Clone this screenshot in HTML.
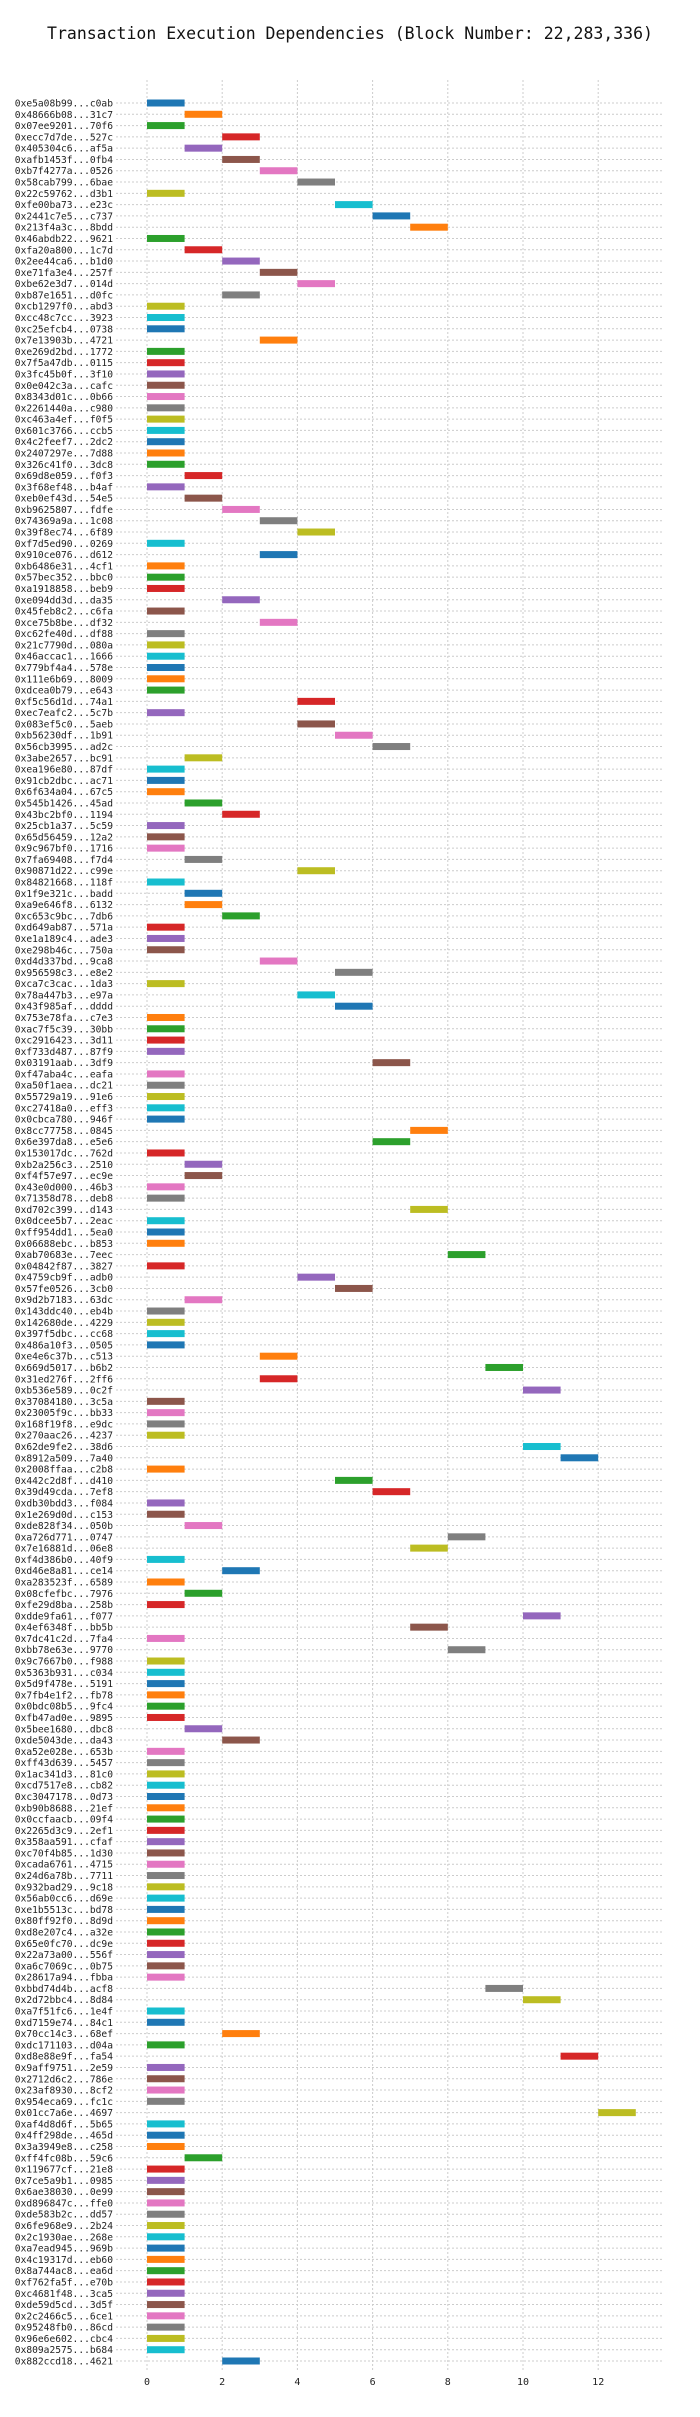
<!DOCTYPE html>
<html>
<head>
<meta charset="utf-8">
<style>
  html,body{margin:0;padding:0;background:#fff;}
  body{width:700px;height:2412px;overflow:hidden;}
  svg text{font-family:"DejaVu Sans Mono","Liberation Mono",monospace;}
</style>
</head>
<body>
<svg id="chart" width="700" height="2412" viewBox="0 0 700 2412" xmlns="http://www.w3.org/2000/svg">
  <rect x="0" y="0" width="700" height="2412" fill="#ffffff"/>
  <text x="350" y="39" text-anchor="middle" font-size="16.5" fill="#111">Transaction Execution Dependencies (Block Number: 22,283,336)</text>
  <g id="grid"></g>
  <g id="bars"></g>
  <g id="ylabels"></g>
  <g id="xticks"></g>
</svg>
<script>
const txLabels = [
"0xe5a08b99...c0ab","0x48666b08...31c7","0x07ee9201...70f6","0xecc7d7de...527c","0x405304c6...af5a",
"0xafb1453f...0fb4","0xb7f4277a...0526","0x58cab799...6bae","0x22c59762...d3b1","0xfe00ba73...e23c",
"0x2441c7e5...c737","0x213f4a3c...8bdd","0x46abdb22...9621","0xfa20a800...1c7d","0x2ee44ca6...b1d0",
"0xe71fa3e4...257f","0xbe62e3d7...014d","0xb87e1651...d0fc","0xcb1297f0...abd3","0xcc48c7cc...3923",
"0xc25efcb4...0738","0x7e13903b...4721","0xe269d2bd...1772","0x7f5a47db...0115","0x3fc45b0f...3f10",
"0x0e042c3a...cafc","0x8343d01c...0b66","0x2261440a...c980","0xc463a4ef...f0f5","0x601c3766...ccb5",
"0x4c2feef7...2dc2","0x2407297e...7d88","0x326c41f0...3dc8","0x69d8e059...f0f3","0x3f68ef48...b4af",
"0xeb0ef43d...54e5","0xb9625807...fdfe","0x74369a9a...1c08","0x39f8ec74...6f89","0xf7d5ed90...0269",
"0x910ce076...d612","0xb6486e31...4cf1","0x57bec352...bbc0","0xa1918858...beb9","0xe094dd3d...da35",
"0x45feb8c2...c6fa","0xce75b8be...df32","0xc62fe40d...df88","0x21c7790d...080a","0x46accac1...1666",
"0x779bf4a4...578e","0x111e6b69...8009","0xdcea0b79...e643","0xf5c56d1d...74a1","0xec7eafc2...5c7b",
"0x083ef5c0...5aeb","0xb56230df...1b91","0x56cb3995...ad2c","0x3abe2657...bc91","0xea196e80...87df",
"0x91cb2dbc...ac71","0x6f634a04...67c5","0x545b1426...45ad","0x43bc2bf0...1194","0x25cb1a37...5c59",
"0x65d56459...12a2","0x9c967bf0...1716","0x7fa69408...f7d4","0x90871d22...c99e","0x84821668...118f",
"0x1f9e321c...badd","0xa9e646f8...6132","0xc653c9bc...7db6","0xd649ab87...571a","0xe1a189c4...ade3",
"0xe298b46c...750a","0xd4d337bd...9ca8","0x956598c3...e8e2","0xca7c3cac...1da3","0x78a447b3...e97a",
"0x43f985af...dddd","0x753e78fa...c7e3","0xac7f5c39...30bb","0xc2916423...3d11","0xf733d487...87f9",
"0x03191aab...3df9","0xf47aba4c...eafa","0xa50f1aea...dc21","0x55729a19...91e6","0xc27418a0...eff3",
"0x0cbca780...946f","0x8cc77758...0845","0x6e397da8...e5e6","0x153017dc...762d","0xb2a256c3...2510",
"0xf4f57e97...ec9e","0x43e0d000...46b3","0x71358d78...deb8","0xd702c399...d143","0x0dcee5b7...2eac",
"0xff954dd1...5ea0","0x06688ebc...b853","0xab70683e...7eec","0x04842f87...3827","0x4759cb9f...adb0",
"0x57fe0526...3cb0","0x9d2b7183...63dc","0x143ddc40...eb4b","0x142680de...4229","0x397f5dbc...cc68",
"0x486a10f3...0505","0xe4e6c37b...c513","0x669d5017...b6b2","0x31ed276f...2ff6","0xb536e589...0c2f",
"0x37084180...3c5a","0x23005f9c...bb33","0x168f19f8...e9dc","0x270aac26...4237","0x62de9fe2...38d6",
"0x8912a509...7a40","0x2008ffaa...c2b8","0x442c2d8f...d410","0x39d49cda...7ef8","0xdb30bdd3...f084",
"0x1e269d0d...c153","0xde828f34...050b","0xa726d771...0747","0x7e16881d...06e8","0xf4d386b0...40f9",
"0xd46e8a81...ce14","0xa283523f...6589","0x08cfefbc...7976","0xfe29d8ba...258b","0xdde9fa61...f077",
"0x4ef6348f...bb5b","0x7dc41c2d...7fa4","0xbb78e63e...9770","0x9c7667b0...f988","0x5363b931...c034",
"0x5d9f478e...5191","0x7fb4e1f2...fb78","0x0bdc08b5...9fc4","0xfb47ad0e...9895","0x5bee1680...dbc8",
"0xde5043de...da43","0xa52e028e...653b","0xff43d639...5457","0x1ac341d3...81c0","0xcd7517e8...cb82",
"0xc3047178...0d73","0xb90b8688...21ef","0x0ccfaacb...09f4","0x2265d3c9...2ef1","0x358aa591...cfaf",
"0xc70f4b85...1d30","0xcada6761...4715","0x24d6a78b...7711","0x932bad29...9c18","0x56ab0cc6...d69e",
"0xe1b5513c...bd78","0x80ff92f0...8d9d","0xd8e207c4...a32e","0x65e0fc70...dc9e","0x22a73a00...556f",
"0xa6c7069c...0b75","0x28617a94...fbba","0xbbd74d4b...acf8","0x2d72bbc4...8d84","0xa7f51fc6...1e4f",
"0xd7159e74...84c1","0x70cc14c3...68ef","0xdc171103...d04a","0xd8e88e9f...fa54","0x9aff9751...2e59",
"0x2712d6c2...786e","0x23af8930...8cf2","0x954eca69...fc1c","0x01cc7a6e...4697","0xaf4d8d6f...5b65",
"0x4ff298de...465d","0x3a3949e8...c258","0xff4fc08b...59c6","0x119677cf...21e8","0x7ce5a9b1...0985",
"0x6ae38030...0e99","0xd896847c...ffe0","0xde583b2c...dd57","0x6fe968e9...2b24","0x2c1930ae...268e",
"0xa7ead945...969b","0x4c19317d...eb60","0x8a744ac8...ea6d","0xf762fa5f...e70b","0xc4681f48...3ca5",
"0xde59d5cd...3d5f","0x2c2466c5...6ce1","0x95248fb0...86cd","0x96e6e602...cbc4","0x809a2575...b684",
"0x882ccd18...4621"
];
const startStep = [
0,1,0,2,1,2,3,4,0,5,
6,7,0,1,2,3,4,2,0,0,
0,3,0,0,0,0,0,0,0,0,
0,0,0,1,0,1,2,3,4,0,
3,0,0,0,2,0,3,0,0,0,
0,0,0,4,0,4,5,6,1,0,
0,0,1,2,0,0,0,1,4,0,
1,1,2,0,0,0,3,5,0,4,
5,0,0,0,0,6,0,0,0,0,
0,7,6,0,1,1,0,0,7,0,
0,0,8,0,4,5,1,0,0,0,
0,3,9,3,10,0,0,0,0,10,
11,0,5,6,0,0,1,8,7,0,
2,0,1,0,10,7,0,8,0,0,
0,0,0,0,1,2,0,0,0,0,
0,0,0,0,0,0,0,0,0,0,
0,0,0,0,0,0,0,9,10,0,
0,2,0,11,0,0,0,0,12,0,
0,0,1,0,0,0,0,0,0,0,
0,0,0,0,0,0,0,0,0,0,
2
];
const xTicks = [0,2,4,6,8,10,12];
const palette = ["#1f77b4","#ff7f0e","#2ca02c","#d62728","#9467bd","#8c564b","#e377c2","#7f7f7f","#bcbd22","#17becf"];

const NS = "http://www.w3.org/2000/svg";
const X0 = 147, UNIT = 37.6;
const xScale = v => X0 + v * UNIT;
const Y0 = 103, ROW = (2361 - 103) / (txLabels.length - 1);
const yScale = i => Y0 + i * ROW;
const GRID_L = 116, GRID_R = 664, GRID_T = 80, GRID_B = 2372;

const grid = document.getElementById('grid');
const bars = document.getElementById('bars');
const ylabels = document.getElementById('ylabels');
const xticks = document.getElementById('xticks');

function mk(tag, attrs){
  const el = document.createElementNS(NS, tag);
  for (const k in attrs) el.setAttribute(k, attrs[k]);
  return el;
}

txLabels.forEach((lab, i) => {
  const y = yScale(i);
  const gl = mk('line', {x1:GRID_L, x2:GRID_R, y1:y, y2:y, stroke:'#cccccc', 'stroke-width':1, 'stroke-dasharray':'2,2'});
  
  
  grid.appendChild(gl);

  const t = mk('text', {x:113, y:y + 3.5, 'text-anchor':'end', 'font-size':'9.6', fill:'#222'});
  t.textContent = lab;
  
  
  ylabels.appendChild(t);
});

xTicks.forEach(v => {
  const x = xScale(v);
  const vl = mk('line', {x1:x, x2:x, y1:GRID_T, y2:GRID_B, stroke:'#cccccc', 'stroke-width':1, 'stroke-dasharray':'2,2'});
  
  
  grid.appendChild(vl);

  const t = mk('text', {x:x, y:2385, 'text-anchor':'middle', 'font-size':'10', fill:'#222'});
  t.textContent = String(v);
  
  
  xticks.appendChild(t);
});

startStep.forEach((s, i) => {
  const y = yScale(i);
  const r = mk('rect', {x:xScale(s), y:y - 3.5, width:UNIT, height:7, fill:palette[i % 10]});
  
  
  bars.appendChild(r);
});
</script>
</body>
</html>
